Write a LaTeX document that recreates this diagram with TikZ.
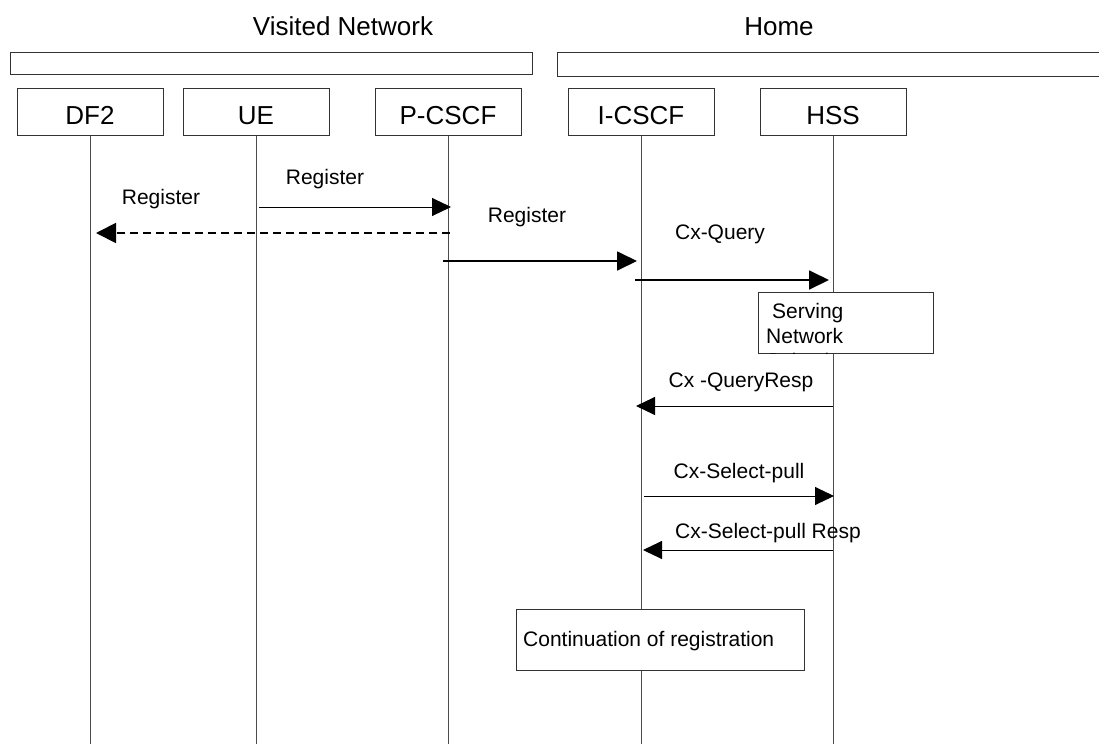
\documentclass[tikz,border=0pt]{standalone}
\usepackage{fontspec}
\setmainfont{Liberation Sans}
\usetikzlibrary{arrows.meta}
\begin{document}
\begin{tikzpicture}[x=1pt,y=-1pt,
  entity/.style={draw=black!80,line width=1pt,minimum width=146pt,minimum height=47pt,inner sep=0pt,font=\fontsize{26}{30}\selectfont},
  band/.style={draw=black!80,line width=1pt},
  life/.style={draw=black!70,line width=1pt},
  lbl/.style={font=\fontsize{21}{25}\selectfont,inner sep=0pt,anchor=base},
  ttl/.style={font=\fontsize{26}{30}\selectfont,inner sep=0pt,anchor=base},
  msg/.style={line width=1pt,-{Triangle[length=19pt,width=18pt]}},
  msgb/.style={line width=1.8pt,-{Triangle[length=20pt,width=19pt]}},
  msgd/.style={line width=1.8pt,dash pattern=on 8pt off 5pt,-{Triangle[length=20pt,width=20pt]}},
  note/.style={draw=black!80,line width=1pt,fill=white}]
\useasboundingbox (0,0) rectangle (1099,744);
\coordinate (bottom) at (0,744);
% titles
\node[ttl] (tv) at (343,35) {Visited Network};
\node[ttl] (th) at (779,35) {Home};
% bands
\draw[band] (10,52) rectangle (532,74);
\draw[band] (1105,52) -- (557,52) -- (557,76) -- (1105,76);
% entities
\node[entity] (df2) at (90,112) {};
\node[entity] (ue) at (256,112) {};
\node[entity] (pcscf) at (448,112) {};
\node[entity] (icscf) at (641,112) {};
\node[entity] (hss) at (833,112) {};
\node[ttl] at (90,124) {DF2};
\node[ttl] at (256,124) {UE};
\node[ttl] at (448,124) {P-CSCF};
\node[ttl] at (641,124) {I-CSCF};
\node[ttl] at (833,124) {HSS};
% lifelines
\foreach \n in {df2,ue,pcscf,icscf,hss}{
  \draw[life] (\n.south) -- (\n.south |- bottom);
}
% messages
\coordinate (a1s) at (259,207); \coordinate (a1e) at (451,207);
\draw[msg] (a1s) -- (a1e);
\node[lbl] (l1) at (325,184) {Register};
\coordinate (a2s) at (450,233); \coordinate (a2e) at (96,233);
\draw[msgd] (a2s) -- (a2e);
\node[lbl] (l2) at (161,204) {Register};
\coordinate (a3s) at (443,261); \coordinate (a3e) at (637,261);
\draw[msgb] (a3s) -- (a3e);
\node[lbl] (l3) at (527,222) {Register};
\coordinate (a4s) at (635,280); \coordinate (a4e) at (829,280);
\draw[msgb] (a4s) -- (a4e);
\node[lbl] (l4) at (720,239) {Cx-Query};
% serving network box
\node[note,minimum width=175pt,minimum height=61pt,inner sep=0pt] (snb) at (845.5,322.5) {};
\begin{scope}
  \clip (snb.south west) rectangle (snb.north east);
  \node[lbl,anchor=base west] (sn1) at (772,318) {Serving};
  \node[lbl,anchor=base west] (sn2) at (766,343) {Network};
  \node[lbl,anchor=base west] (sn3) at (766,368) {Selection};
\end{scope}
\coordinate (a5s) at (833,406); \coordinate (a5e) at (636,406);
\draw[msg] (a5s) -- (a5e);
\node[lbl] (l5) at (741,387) {Cx -QueryResp};
\coordinate (a6s) at (644,496); \coordinate (a6e) at (834,496);
\draw[msg] (a6s) -- (a6e);
\node[lbl] (l6) at (739,478) {Cx-Select-pull};
\coordinate (a7s) at (833,550); \coordinate (a7e) at (643,550);
\draw[msg] (a7s) -- (a7e);
\node[lbl] (l7) at (768,538) {Cx-Select-pull Resp};
% continuation box
\node[note,minimum width=288pt,minimum height=61pt,inner sep=0pt] (cont) at (660,639.5) {};
\node[lbl,anchor=base west] (ct) at (523,646) {Continuation of registration};
\end{tikzpicture}
\end{document}
